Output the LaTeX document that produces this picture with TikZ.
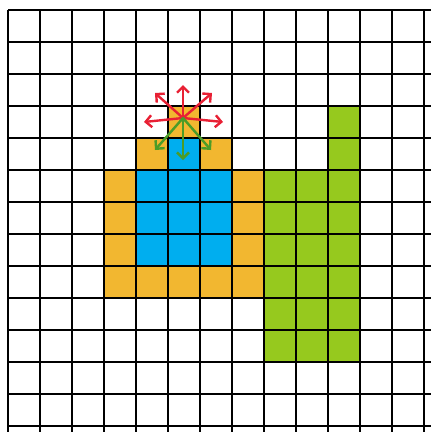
\documentclass[tikz,border=0pt]{standalone}
\usetikzlibrary{arrows.meta}
\definecolor{cellorange}{RGB}{242,183,48}
\definecolor{cellblue}{RGB}{0,174,239}
\definecolor{cellgreen}{RGB}{150,201,30}
\definecolor{arrred}{RGB}{232,32,52}
\definecolor{arrgreen}{RGB}{76,156,40}
\tikzset{
  cell/.style={fill=#1, draw=none},
  gridline/.style={line width=1.1pt, black},
  redarrow/.style={arrred, line width=2.4pt, line cap=round, -{Straight Barb[length=6pt,width=12pt,line width=2.4pt]}},
  greenarrow/.style={arrgreen, line width=2.4pt, line cap=round, -{Straight Barb[length=6pt,width=12pt,line width=2.4pt]}}
}
\begin{document}
\begin{tikzpicture}[x=1pt,y=-1pt]
\useasboundingbox (0,0) rectangle (431,432);
% orange block
\fill[cell=cellorange] (104,170) rectangle (264,298);
\fill[cell=cellorange] (136,138) rectangle (232,170);
\fill[cell=cellorange] (168,106) rectangle (200,138);
% blue
\fill[cell=cellblue] (136,170) rectangle (232,266);
\fill[cell=cellblue] (168,138) rectangle (200,170);
% green
\fill[cell=cellgreen] (264,170) rectangle (360,362);
\fill[cell=cellgreen] (328,106) rectangle (360,170);
% grid
\foreach \i in {0,...,13} {
  \draw[gridline] ({8+32*\i},10) -- ({8+32*\i},432);
  \draw[gridline] (8,{10+32*\i}) -- (431,{10+32*\i});
}
% arrows
\coordinate (o) at (183,118);
\coordinate (u) at (183,85);
\coordinate (ul) at (155,93);
\coordinate (ur) at (212,93);
\coordinate (l) at (144,122);
\coordinate (r) at (223,122);
\coordinate (dl) at (155,150);
\coordinate (d) at (183,160);
\coordinate (dr) at (211,150);
\foreach \t in {u,ul,ur,l,r} { \draw[redarrow] (o) -- (\t); }
\foreach \t in {dl,d,dr} { \draw[greenarrow] (o) -- (\t); }
\end{tikzpicture}
\end{document}
